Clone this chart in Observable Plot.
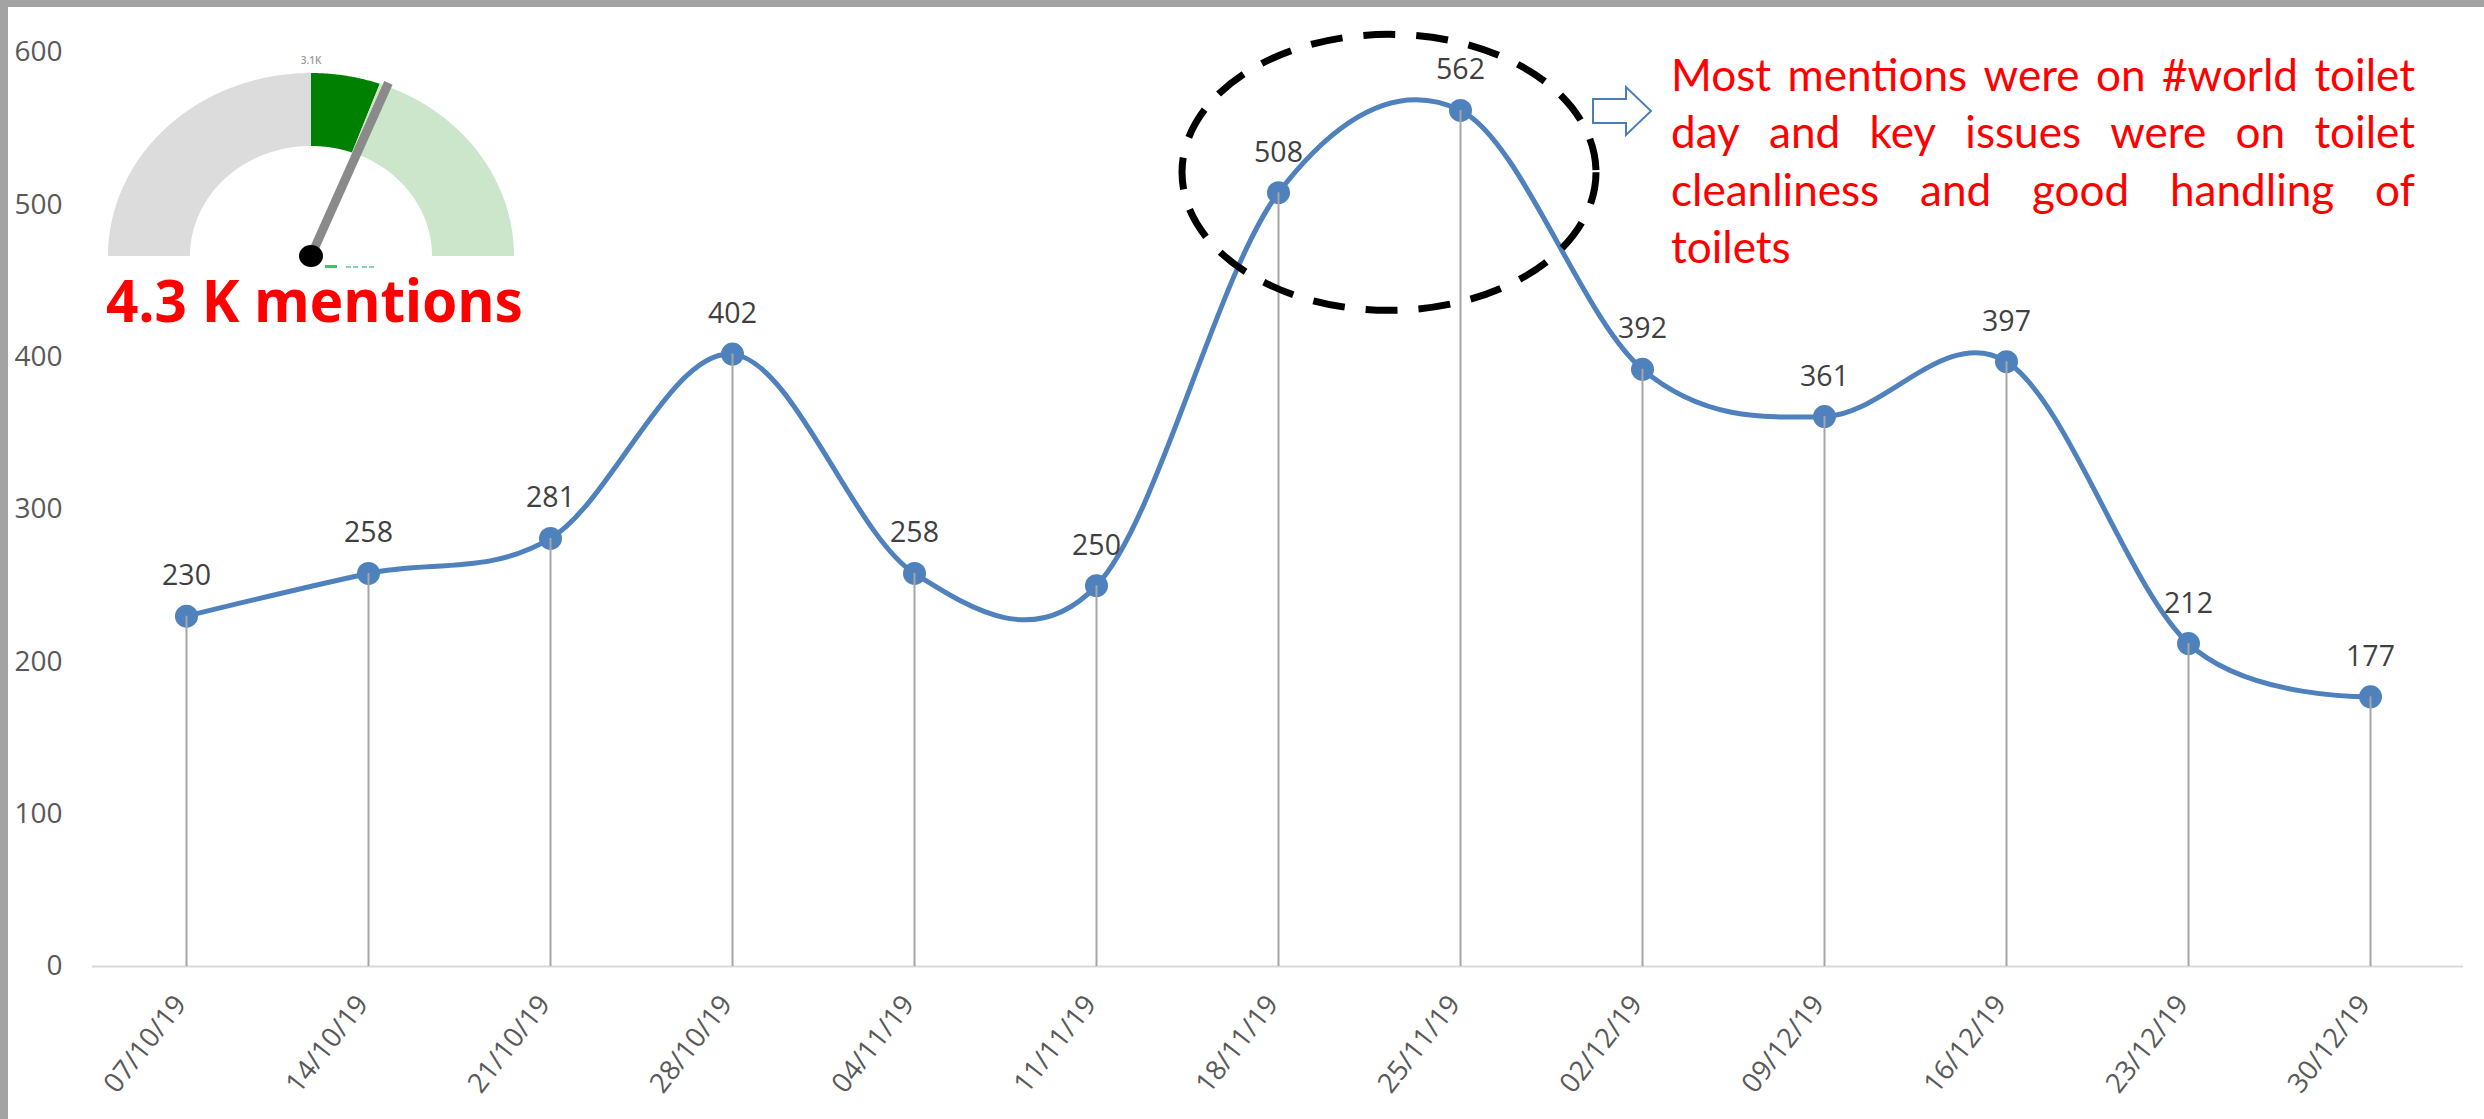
<!DOCTYPE html>
<html>
<head>
<meta charset="utf-8">
<script src="https://cdn.jsdelivr.net/npm/d3@7"></script>
<script src="https://cdn.jsdelivr.net/npm/@observablehq/plot@0.6"></script>
<style>
html,body{margin:0;padding:0;background:#fff;overflow:hidden}
#wrap{position:relative;width:2484px;height:1119px;background:#fff}
#wrap svg{position:absolute;left:0;top:0}
.bar{position:absolute;background:#a3a3a3}
</style>
</head>
<body>
<div id="wrap"></div>
<script>
// ---- data ----
const weeks = ["07/10/19","14/10/19","21/10/19","28/10/19","04/11/19","11/11/19","18/11/19","25/11/19","02/12/19","09/12/19","16/12/19","23/12/19","30/12/19"];
const mentions = [230,258,281,402,258,250,508,562,392,361,397,212,177];
const yTicks = [0,100,200,300,400,500,600];
const gaugeShares = [0.5, 0.11, 0.39];
const needleShare = 0.622;
const gaugeTopLabel = "3.1K";
const totalLabel = "4.3 K mentions";
const noteLines = [
  "Most mentions were on #world toilet",
  "day and key issues were on toilet",
  "cleanliness and good handling of",
  "toilets"
];

(function () {
const W = 2484, H = 1119;
const data = weeks.map((w, i) => ({week: w, value: mentions[i]}));

const chart = Plot.plot({
  width: W, height: H,
  marginLeft: 92, marginRight: 21, marginTop: 52, marginBottom: 153,
  style: {background: "transparent", fontFamily: "'Open Sans', sans-serif", overflow: "visible"},
  x: {type: "point", domain: weeks, padding: 0.5, axis: null},
  y: {domain: [0, 600], axis: null},
  marks: [
    Plot.ruleY([0], {stroke: "#d9d9d9", strokeWidth: 2}),
    Plot.text(yTicks, {y: d => d, frameAnchor: "left", textAnchor: "end", dx: -30, text: d => String(d), fill: "#595959", fontSize: 28}),
    Plot.text(data, {x: "week", frameAnchor: "bottom", text: "week", rotate: -52, textAnchor: "end", dx: 1, dy: 38, fill: "#595959", fontSize: 27.5}),
    Plot.line(data, {x: "week", y: "value", curve: "cardinal", stroke: "#4f81bd", strokeWidth: 5}),
    Plot.dot(data, {x: "week", y: "value", r: 11.5, fill: "#4f81bd"}),
    Plot.ruleX(data, {x: "week", y1: 0, y2: "value", stroke: "#a6a6a6", strokeWidth: 2}),
    Plot.text(data, {x: "week", y: "value", text: d => String(d.value), dy: -31, lineAnchor: "bottom", fill: "#404040", fontSize: 28.5})
  ]
});

const wrap = document.getElementById("wrap");
wrap.appendChild(chart);

// scales
const xs = chart.scale("x"), ys = chart.scale("y");
const X = v => xs.apply(v);
const Y = v => ys.apply(v);

// overlay
const ov = d3.select(wrap).append("svg").attr("width", W).attr("height", H)
  .style("pointer-events", "none");

// ---- gauge ----
const gcx = 311, gcy = 256, RX = 203, RY = 183, rx = 121, ry = 110;
const ep = (a, ex, ey) => { const r = a * Math.PI / 180; return [gcx + ex * Math.cos(r), gcy - ey * Math.sin(r)]; };
function sector(a0, a1) {
  const pts = [], n = 80;
  for (let i = 0; i <= n; i++) pts.push(ep(a0 + (a1 - a0) * i / n, RX, RY));
  for (let i = n; i >= 0; i--) pts.push(ep(a0 + (a1 - a0) * i / n, rx, ry));
  return "M" + pts.map(p => p[0].toFixed(2) + "," + p[1].toFixed(2)).join("L") + "Z";
}
const gaugeColors = ["#dcdcdc", "#008000", "#cce6cb"];
let acc = 180;
gaugeShares.forEach((s, i) => {
  const a1 = acc - s * 180;
  ov.append("path").attr("d", sector(acc, a1)).attr("fill", gaugeColors[i]);
  acc = a1;
});
// change indicator slivers (mostly hidden under the total label in the original)
ov.append("rect").attr("x", 325).attr("y", 265).attr("width", 12).attr("height", 3).attr("fill", "#2ecc71");
[346, 353, 362, 369].forEach(x0 => ov.append("rect").attr("x", x0).attr("y", 266).attr("width", 5).attr("height", 2).attr("fill", "#7fdca5"));
const na = 180 - needleShare * 180;
const tip = ep(na, RX * 1.02, RY * 1.02);
ov.append("line").attr("x1", gcx).attr("y1", gcy).attr("x2", tip[0]).attr("y2", tip[1])
  .attr("stroke", "#8a8a8a").attr("stroke-width", 9);
ov.append("ellipse").attr("cx", gcx).attr("cy", gcy).attr("rx", 12).attr("ry", 11).attr("fill", "#000");
ov.append("text").attr("x", gcx).attr("y", 64).attr("text-anchor", "middle")
  .attr("font-family", "'Open Sans', sans-serif").attr("font-size", 10).attr("font-weight", 600)
  .attr("fill", "#9a9a9a").text(gaugeTopLabel);
ov.append("text").attr("x", 106).attr("y", 322)
  .attr("font-family", "'Noto Sans', sans-serif").attr("font-weight", 700).attr("font-size", 60)
  .attr("fill", "#ff0000").attr("textLength", 417).attr("lengthAdjust", "spacingAndGlyphs").text(totalLabel);

// ---- highlight ellipse around the peak ----
const ecx = (X(weeks[6]) + X(weeks[7])) / 2 + 20;
const ecy = Y(521);
ov.append("ellipse").attr("cx", ecx).attr("cy", ecy).attr("rx", 207).attr("ry", 138)
  .attr("fill", "none").attr("stroke", "#000").attr("stroke-width", 7).attr("stroke-dasharray", "32 21");

// ---- arrow ----
const ax = 1593, ay = 111;
ov.append("path")
  .attr("d", `M${ax},${ay-12}L${ax+33},${ay-12}L${ax+33},${ay-24}L${ax+58},${ay}L${ax+33},${ay+24}L${ax+33},${ay+12}L${ax},${ay+12}Z`)
  .attr("fill", "#fff").attr("stroke", "#4a7ebb").attr("stroke-width", 2);

// ---- note (justified) ----
const noteX0 = 1671, noteX1 = 2415, noteY0 = 91, noteStep = 57.5;
const noteFont = "Lato, sans-serif", noteSize = 43.5, line1WordsWidth = 662;
const noteG = ov.append("g");
function layoutNote() {
  noteG.selectAll("*").remove();
  const inner = noteG.append("g");
  const mk = (w, yb) => inner.append("text").attr("y", yb).attr("font-family", noteFont)
    .attr("font-size", noteSize).attr("fill", "#ff0000").text(w);
  // horizontal condensation so that the first line's words take the same room as in the original
  const probeNodes = noteLines[0].split(" ").map(w => mk(w, -100));
  const sum1 = probeNodes.reduce((a, n) => a + n.node().getComputedTextLength(), 0);
  probeNodes.forEach(n => n.remove());
  const sx = Math.min(1.15, line1WordsWidth / sum1);
  inner.attr("transform", `translate(${noteX0},0) scale(${sx},1)`);
  const span = (noteX1 - noteX0) / sx;
  noteLines.forEach((line, li) => {
    const yb = noteY0 + li * noteStep;
    const words = line.split(" ");
    if (li === noteLines.length - 1) { mk(line, yb).attr("x", 0); return; }
    const nodes = words.map(w => mk(w, yb));
    const widths = nodes.map(n => n.node().getComputedTextLength());
    const total = widths.reduce((a, b) => a + b, 0);
    const gap = (span - total) / (words.length - 1);
    let x = 0;
    nodes.forEach((n, i) => { n.attr("x", x); x += widths[i] + gap; });
  });
}
layoutNote();
if (document.fonts && document.fonts.ready) document.fonts.ready.then(layoutNote);

// ---- frame bars ----
const barTop = document.createElement("div"); barTop.className = "bar";
barTop.style.cssText = "left:0;top:0;width:2484px;height:7px;";
const barLeft = document.createElement("div"); barLeft.className = "bar";
barLeft.style.cssText = "left:0;top:0;width:8px;height:1119px;";
wrap.appendChild(barTop); wrap.appendChild(barLeft);
})();
</script>
</body>
</html>
